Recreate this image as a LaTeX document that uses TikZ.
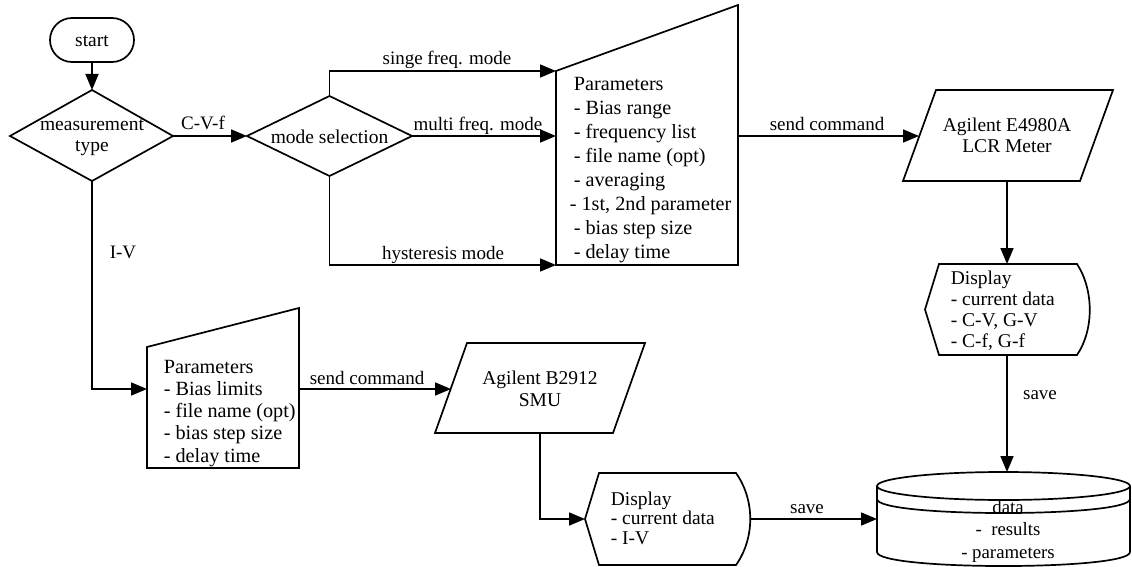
\documentclass[tikz,border=0pt]{standalone}
\usepackage{fontspec}
\setmainfont{Liberation Serif}
\usetikzlibrary{arrows.meta}
\begin{document}
\begin{tikzpicture}[x=1pt,y=-1pt, line width=1.7pt, line join=miter,
  arr/.style={-{Triangle[length=16pt,width=13pt]}},
  txt/.style={inner sep=0pt, font=\fontsize{19.5}{21}\selectfont},
  lbl/.style={inner sep=0pt, anchor=base, font=\fontsize{19}{24}\selectfont}]
\useasboundingbox (0,0) rectangle (1132,567);
% start
\draw[rounded corners=22pt] (50,18) rectangle (134,62);
\node[txt, anchor=base] (start) at (92,47) {start};
\coordinate (stB) at (92,62);
% measurement type
\coordinate (mtT) at (92,90); \coordinate (mtL) at (10,136);
\coordinate (mtR) at (173,136); \coordinate (mtB) at (92,181);
\draw (mtT)--(mtR)--(mtB)--(mtL)--cycle;
\node[txt, align=center, anchor=base] (mt) at (92,152) {measurement\\type};
% mode selection
\coordinate (msT) at (329.5,96); \coordinate (msL) at (247,136);
\coordinate (msR) at (412,136); \coordinate (msB) at (329.5,176);
\draw (msT)--(msR)--(msB)--(msL)--cycle;
\node[txt, anchor=base] (ms) at (329.5,143) {mode selection};
% parameters C-V
\coordinate (p1a) at (556,71); \coordinate (p1b) at (738,5);
\coordinate (p1c) at (738,265); \coordinate (p1d) at (556,265);
\coordinate (p1m) at (556,136); \coordinate (p1r) at (738,136);
\draw (p1a)--(p1b)--(p1c)--(p1d)--cycle;
\node[txt, align=left, anchor=base west, font=\fontsize{20.2}{24}\selectfont] (p1) at (573,258)
  {Parameters\\- Bias range\\- frequency list\\- file name (opt)\\- averaging\\\hspace*{-4pt}- 1st, 2nd parameter\\- bias step size\\- delay time};
% LCR meter
\coordinate (lcrA) at (936,90); \coordinate (lcrB) at (1113,90);
\coordinate (lcrC) at (1080,181); \coordinate (lcrD) at (903,181);
\coordinate (lcrL) at (919,136); \coordinate (lcrS) at (1007,181);
\draw (lcrA)--(lcrB)--(lcrC)--(lcrD)--cycle;
\node[txt, align=center, anchor=base] (lcr) at (1007,153) {Agilent E4980A\\LCR Meter};
% display C-V
\coordinate (d1T) at (1007,264); \coordinate (d1B) at (1007,355);
\draw (939,264) -- (1077,264) .. controls (1094,290) and (1094,330) .. (1077,355) -- (939,355) -- (925,309.5) -- cycle;
\node[txt, align=left, anchor=base west, font=\fontsize{19.5}{20.7}\selectfont] (d1) at (950,347) {Display\\- current data\\- C-V, G-V\\- C-f, G-f};
% data cylinder
\coordinate (cyT) at (1007,472); \coordinate (cyL) at (877,519);
\draw (1003.5,486) ellipse [x radius=126.5pt, y radius=14pt];
\draw (877,486) -- (877,552) .. controls (877,570.7) and (1130,570.7) .. (1130,552) -- (1130,486);
\draw (877,499) .. controls (877,517.7) and (1130,517.7) .. (1130,499);
\node[txt, align=center, anchor=base, font=\fontsize{18.8}{22.5}\selectfont] (cy) at (1008,558) {data\\-\ \ results\\- parameters};
% parameters I-V
\coordinate (p2a) at (147,347); \coordinate (p2b) at (299,308);
\coordinate (p2c) at (299,468); \coordinate (p2d) at (147,468);
\coordinate (p2m) at (147,389); \coordinate (p2r) at (299,389);
\draw (p2a)--(p2b)--(p2c)--(p2d)--cycle;
\node[txt, align=left, anchor=base west, font=\fontsize{20.2}{22.2}\selectfont] (p2) at (163,462)
  {Parameters\\- Bias limits\\- file name (opt)\\- bias step size\\- delay time};
% SMU
\coordinate (smA) at (467,343); \coordinate (smB) at (645,343);
\coordinate (smC) at (613,433); \coordinate (smD) at (435,433);
\coordinate (smL) at (451,389); \coordinate (smS) at (540,433);
\draw (smA)--(smB)--(smC)--(smD)--cycle;
\node[txt, align=center, anchor=base, font=\fontsize{19.5}{22}\selectfont] (smu) at (540,406) {Agilent B2912\\SMU};
% display I-V
\coordinate (d2L) at (585,519); \coordinate (d2R) at (750,519);
\draw (599,473) -- (736,473) .. controls (755,500) and (755,538) .. (736,565) -- (599,565) -- (585,519) -- cycle;
\node[txt, align=left, anchor=base west, font=\fontsize{19.5}{19.5}\selectfont] (d2) at (610,544) {Display\\- current data\\- I-V};
% connectors
\draw[arr] (stB) -- (mtT);
\draw[arr] (mtR) -- (msL);
\node[lbl] (lcvf) at (203,130) {C-V-f};
\draw[arr] (msT) |- (p1a);
\node[lbl] (lsing) at (447,65) {singe freq. mode};
\draw[arr] (msR) -- (p1m);
\node[lbl] (lmulti) at (478,131) {multi freq. mode};
\draw[arr] (msB) |- (p1d);
\node[lbl] (lhyst) at (443,259) {hysteresis mode};
\draw[arr] (p1r) -- (lcrL);
\node[lbl] (lsend1) at (827,131) {send command};
\draw[arr] (lcrS) -- (d1T);
\draw[arr] (d1B) -- (cyT);
\node[lbl] (lsave1) at (1040,399) {save};
\draw[arr] (mtB) |- (p2m);
\node[lbl] (liv) at (123,258) {I-V};
\draw[arr] (p2r) -- (smL);
\node[lbl] (lsend2) at (367,384) {send command};
\draw[arr] (smS) |- (d2L);
\draw[arr] (d2R) -- (cyL);
\node[lbl] (lsave2) at (807,513) {save};
\end{tikzpicture}
\end{document}
